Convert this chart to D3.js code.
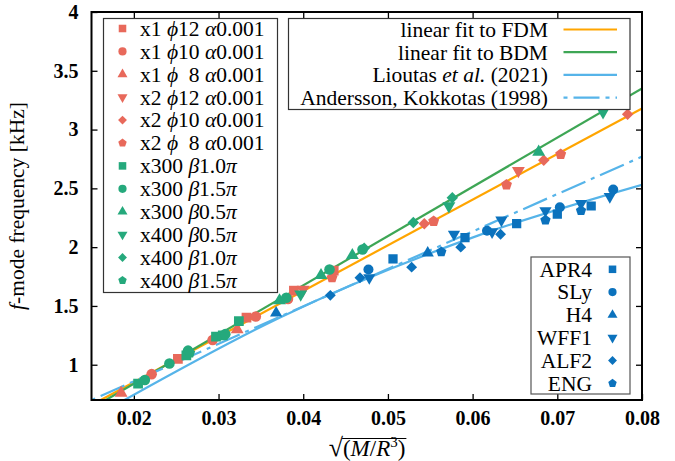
<!DOCTYPE html>
<html><head><meta charset="utf-8">
<script src="https://cdn.jsdelivr.net/npm/d3@7"></script>
<style>
body{margin:0;background:#fff}
svg{display:block}
text{font-family:"Liberation Serif","Times New Roman",serif;fill:#000}
</style>
</head><body>
<svg id="c" width="675" height="461" font-family="Liberation Serif, serif"></svg>
<script>
// ---------- axes ----------
const xTicks = [0.02, 0.03, 0.04, 0.05, 0.06, 0.07, 0.08];
const xTickLabels = ["0.02", "0.03", "0.04", "0.05", "0.06", "0.07", "0.08"];
const yTicks = [1, 1.5, 2, 2.5, 3, 3.5, 4];
const yTickLabels = ["1", "1.5", "2", "2.5", "3", "3.5", "4"];
const xDomain = [0.015, 0.08];
const yDomain = [0.7, 4];

// ---------- FDM (red) simulations: [sqrt(M/R^3), f kHz] ----------
const x1phi12 = [[0.0252, 1.05], [0.0333, 1.40], [0.0389, 1.63], [0.0436, 1.80]];
const x1phi10 = [[0.0221, 0.92], [0.0293, 1.21], [0.0344, 1.41], [0.0382, 1.56]];
const x1phi8  = [[0.0185, 0.76], [0.0322, 1.30]];
const x2phi12 = [[0.0400, 1.64], [0.0654, 2.65]];
const x2phi10 = [[0.0543, 2.20], [0.0684, 2.74], [0.0783, 3.13]];
const x2phi8  = [[0.0434, 1.74], [0.0554, 2.22], [0.0640, 2.53], [0.0704, 2.79]];

// ---------- BDM (green) simulations ----------
const x300b10 = [[0.0205, 0.84], [0.0262, 1.08], [0.0297, 1.24], [0.0305, 1.25], [0.0324, 1.37]];
const x300b15 = [[0.0213, 0.87], [0.0242, 1.01], [0.0264, 1.12], [0.0308, 1.26], [0.0380, 1.57], [0.0431, 1.81], [0.0470, 1.98]];
const x300b05 = [[0.0372, 1.545], [0.0421, 1.76], [0.0458, 1.93], [0.0678, 2.81]];
const x400b05 = [[0.0397, 1.60], [0.0572, 2.35], [0.0754, 3.15]];
const x400b10 = [[0.0472, 1.99], [0.0530, 2.21], [0.0576, 2.42]];
const x400b15 = [[0.0266, 1.10]];

// ---------- pure nuclear-matter EOS (blue) ----------
const apr4 = [[0.0506, 1.90], [0.0591, 2.08], [0.0652, 2.20], [0.0700, 2.28], [0.0740, 2.35]];
const sly  = [[0.0477, 1.81], [0.0617, 2.14], [0.0703, 2.34], [0.0766, 2.49]];
const h4   = [[0.0368, 1.44], [0.0547, 1.95]];
const wff1 = [[0.0478, 1.74], [0.0578, 2.11], [0.0623, 2.13], [0.0634, 2.23], [0.0686, 2.31], [0.0728, 2.37], [0.0762, 2.43]];
const alf2 = [[0.0432, 1.59], [0.0467, 1.74], [0.0528, 1.83], [0.0586, 2.00], [0.0633, 2.11]];
const eng  = [[0.0563, 1.96], [0.0686, 2.23], [0.0728, 2.31]];

// ---------- fit / reference lines ----------
const fitFDM   = [[0.0161, 0.70], [0.08, 3.18]];
const fitBDM   = [[0.0167, 0.70], [0.08, 3.35]];
const lioutas  = [[0.0189, 0.70], [0.0372, 1.40], [0.0607, 2.10], [0.08, 2.53]];
const andersson = [[0.015, 0.70], [0.08, 2.77]];

// ---------- legend labels ----------
const redLabels = [
  ["x1 ", ["ϕ", true], "12 ", ["α", true], "0.001"],
  ["x1 ", ["ϕ", true], "10 ", ["α", true], "0.001"],
  ["x1 ", ["ϕ", true], "  8 ", ["α", true], "0.001"],
  ["x2 ", ["ϕ", true], "12 ", ["α", true], "0.001"],
  ["x2 ", ["ϕ", true], "10 ", ["α", true], "0.001"],
  ["x2 ", ["ϕ", true], "  8 ", ["α", true], "0.001"]
];
const greenLabels = [
  ["x300 ", ["β", true], "1.0", ["π", true]],
  ["x300 ", ["β", true], "1.5", ["π", true]],
  ["x300 ", ["β", true], "0.5", ["π", true]],
  ["x400 ", ["β", true], "0.5", ["π", true]],
  ["x400 ", ["β", true], "1.0", ["π", true]],
  ["x400 ", ["β", true], "1.5", ["π", true]]
];
const eosLabels = ["APR4", "SLy", "H4", "WFF1", "ALF2", "ENG"];
const lineLabels = [
  ["linear fit to FDM"],
  ["linear fit to BDM"],
  ["Lioutas ", ["et al.", true], " (2021)"],
  ["Andersson, Kokkotas (1998)"]
];

// ---------- styles ----------
const FONT = "'Liberation Serif', 'Times New Roman', serif";
const FS = 21.5;
const RED = "#e8695b", GREEN = "#25a97c", BLUE = "#0b72bd";
const C_ORANGE = "#ffa500", C_GREEN = "#3ea655", C_LBLUE = "#56b4e9";

const pentagon = {draw(ctx, size){
  const r = Math.sqrt(size / (2.5 * Math.sin(2 * Math.PI / 5)));
  for (let i = 0; i < 5; i++) {
    const a = -Math.PI / 2 + i * 2 * Math.PI / 5;
    const px = r * Math.cos(a), py = r * Math.sin(a);
    if (i) ctx.lineTo(px, py); else ctx.moveTo(px, py);
  }
  ctx.closePath();
}};
const diamondSq = {draw(ctx, size){
  const r = Math.sqrt(size / 2);
  ctx.moveTo(0, -r); ctx.lineTo(r, 0); ctx.lineTo(0, r); ctx.lineTo(-r, 0); ctx.closePath();
}};
const shapes = {
  square:  {type: d3.symbolSquare, size: 95, rot: 0},
  circle:  {type: d3.symbolCircle, size: 88, rot: 0},
  tri:     {type: d3.symbolTriangle, size: 72, rot: 0},
  triDown: {type: d3.symbolTriangle, size: 72, rot: 180},
  diamond: {type: diamondSq, size: 66, rot: 0},
  pent:    {type: pentagon, size: 78, rot: 0}
};
const shapeOrder = ["square", "circle", "tri", "triDown", "diamond", "pent"];

const redSeries = [x1phi12, x1phi10, x1phi8, x2phi12, x2phi10, x2phi8];
const greenSeries = [x300b10, x300b15, x300b05, x400b05, x400b10, x400b15];
const blueSeries = [apr4, sly, h4, wff1, alf2, eng];

// ---------- layout ----------
const svg = d3.select("#c");
const L = 91.5, R = 642, T = 12, B = 400;
const x = d3.scaleLinear().domain(xDomain).range([L, R]);
const y = d3.scaleLinear().domain(yDomain).range([B, T]);

svg.append("defs").append("clipPath").attr("id", "clip")
  .append("rect").attr("x", L).attr("y", T).attr("width", R - L).attr("height", B - T);

// axes
function styleAxis(g){
  g.select(".domain").remove();
  g.attr("font-family", FONT);
  g.selectAll(".tick line").attr("stroke", "#000").attr("stroke-width", 1.3);
  g.selectAll(".tick text").attr("font-family", FONT)
    .attr("font-size", 20).attr("font-weight", "bold").attr("fill", "#000");
}
svg.append("g").attr("transform", `translate(0,${B})`)
  .call(d3.axisBottom(x).tickValues(xTicks).tickFormat((d, i) => xTickLabels[i]).tickSize(-6).tickPadding(11))
  .call(styleAxis);
svg.append("g").attr("transform", `translate(0,${T})`)
  .call(d3.axisTop(x).tickValues(xTicks.slice(0, -1)).tickFormat("").tickSize(-6))
  .call(styleAxis);
svg.append("g").attr("transform", `translate(${L},0)`)
  .call(d3.axisLeft(y).tickValues(yTicks).tickFormat((d, i) => yTickLabels[i]).tickSize(-6).tickPadding(13))
  .call(styleAxis);
svg.append("g").attr("transform", `translate(${R},0)`)
  .call(d3.axisRight(y).tickValues(yTicks.slice(0, -1)).tickFormat("").tickSize(-6))
  .call(styleAxis);

// lines
const line = d3.line().x(d => x(d[0])).y(d => y(d[1]));
const curve = d3.line().x(d => x(d[0])).y(d => y(d[1])).curve(d3.curveMonotoneX);
const lg = svg.append("g").attr("clip-path", "url(#clip)");
lg.append("path").datum(fitFDM).attr("d", line).attr("fill", "none").attr("stroke", C_ORANGE).attr("stroke-width", 2.2);
lg.append("path").datum(fitBDM).attr("d", line).attr("fill", "none").attr("stroke", C_GREEN).attr("stroke-width", 2.2);
lg.append("path").datum(lioutas).attr("d", curve).attr("fill", "none").attr("stroke", C_LBLUE).attr("stroke-width", 2.2);
lg.append("path").datum(andersson).attr("d", line).attr("fill", "none").attr("stroke", C_LBLUE).attr("stroke-width", 2.2)
  .attr("stroke-dasharray", "4,6,26,6");

// points
const pg = svg.append("g").attr("clip-path", "url(#clip)");
function drawSeries(data, shapeName, color, scale){
  const s = shapes[shapeName];
  pg.selectAll(null).data(data).enter().append("path")
    .attr("d", d3.symbol().type(s.type).size(s.size * (scale || 1)))
    .attr("transform", d => `translate(${x(d[0])},${y(d[1])}) rotate(${s.rot})`)
    .attr("fill", color);
}
redSeries.forEach((d, i) => drawSeries(d, shapeOrder[i], RED));
greenSeries.forEach((d, i) => drawSeries(d, shapeOrder[i], GREEN));
blueSeries.forEach((d, i) => drawSeries(d, shapeOrder[i], BLUE, 0.9));

// frame
svg.append("rect").attr("x", L).attr("y", T).attr("width", R - L).attr("height", B - T)
  .attr("fill", "none").attr("stroke", "#000").attr("stroke-width", 2);

function addRich(textSel, parts){
  parts.forEach(p => {
    if (typeof p === "string") textSel.append("tspan").style("white-space", "pre").text(p);
    else textSel.append("tspan").attr("font-style", p[1] ? "italic" : null).style("white-space", "pre").text(p[0]);
  });
}
function legendSymbol(g, cx, cy, shapeName, color){
  const s = shapes[shapeName];
  g.append("path").attr("d", d3.symbol().type(s.type).size(s.size * 0.6))
    .attr("transform", `translate(${cx},${cy}) rotate(${s.rot})`).attr("fill", color);
}

// left legend
const lg1 = svg.append("g");
lg1.append("rect").attr("x", 103.5).attr("y", 18.5).attr("width", 174).attr("height", 274)
  .attr("fill", "#fff").attr("stroke", "#333").attr("stroke-width", 1.2);
const leftLabels = redLabels.concat(greenLabels);
leftLabels.forEach((parts, i) => {
  const cy = 28.5 + i * 22.9;
  legendSymbol(lg1, 122.5, cy, shapeOrder[i % 6], i < 6 ? RED : GREEN);
  const t = lg1.append("text").attr("x", 140).attr("y", cy).attr("dy", "0.34em")
    .attr("font-family", FONT).attr("font-size", FS).style("white-space", "pre");
  addRich(t, parts);
});

// top-right legend
const lg2 = svg.append("g");
lg2.append("rect").attr("x", 288.5).attr("y", 18.5).attr("width", 341.5).attr("height", 91)
  .attr("fill", "#fff").attr("stroke", "#333").attr("stroke-width", 1.2);
const lineStyles = [[C_ORANGE, null], [C_GREEN, null], [C_LBLUE, null], [C_LBLUE, "4,6,26,6"]];
lineLabels.forEach((parts, i) => {
  const cy = 29.5 + i * 22.7;
  const t = lg2.append("text").attr("x", 548).attr("y", cy).attr("dy", "0.34em")
    .attr("text-anchor", "end").attr("font-family", FONT).attr("font-size", FS).style("white-space", "pre");
  addRich(t, parts);
  lg2.append("line").attr("x1", 563.5).attr("x2", 617).attr("y1", cy).attr("y2", cy)
    .attr("stroke", lineStyles[i][0]).attr("stroke-width", 2.2)
    .attr("stroke-dasharray", lineStyles[i][1]);
});

// bottom-right legend
const lg3 = svg.append("g");
lg3.append("rect").attr("x", 531).attr("y", 257).attr("width", 99).attr("height", 137)
  .attr("fill", "#fff").attr("stroke", "#555").attr("stroke-width", 1.2);
eosLabels.forEach((lab, i) => {
  const cy = 269.3 + i * 22.8;
  lg3.append("text").attr("x", 592).attr("y", cy).attr("dy", "0.34em")
    .attr("text-anchor", "end").attr("font-family", FONT).attr("font-size", FS).text(lab);
  legendSymbol(lg3, 612.5, cy, shapeOrder[i], BLUE);
});

// y axis label
const yl = svg.append("text").attr("transform", "translate(24,206) rotate(-90)")
  .attr("text-anchor", "middle").attr("font-family", FONT).attr("font-size", 21.5);
addRich(yl, [["f", true], "-mode frequency [kHz]"]);

// x axis label
const xl = svg.append("text").attr("x", 367).attr("y", 456).attr("text-anchor", "middle")
  .attr("font-family", FONT).attr("font-size", 23);
xl.append("tspan").attr("font-size", 26).text("√");
xl.append("tspan").text("(");
xl.append("tspan").attr("font-style", "italic").text("M");
xl.append("tspan").text("/");
xl.append("tspan").attr("font-style", "italic").text("R");
xl.append("tspan").attr("font-size", 15).attr("dy", -9).text("3");
xl.append("tspan").attr("dy", 9).text(")");
const xn = xl.node();
const vx1 = xn.getEndPositionOfChar(0).x - 0.8;
const vx2 = xn.getEndPositionOfChar(xn.getNumberOfChars() - 1).x + 1;
svg.append("line").attr("x1", vx1).attr("x2", vx2).attr("y1", 438.5).attr("y2", 438.5)
  .attr("stroke", "#000").attr("stroke-width", 1.1);
</script>
</body></html>
